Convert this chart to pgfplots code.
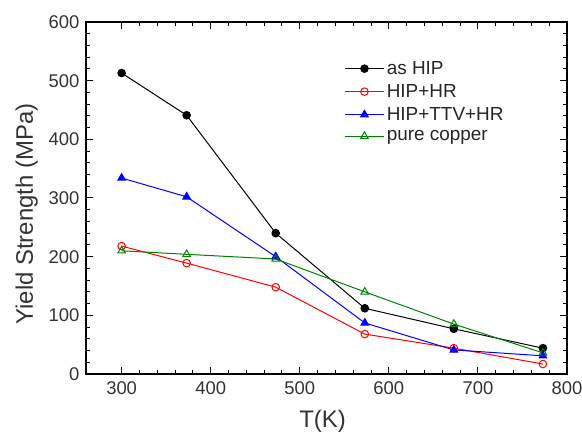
\documentclass[border=0pt]{standalone}
\usepackage{pgfplots}
\pgfplotsset{compat=1.18}
\usepackage{fontspec}
\setmainfont{Liberation Sans}
\definecolor{cgreen}{RGB}{0,128,0}
\begin{document}
\begin{tikzpicture}
\begin{axis}[
  name=ax,
  scale only axis,
  width=481bp, height=352bp,
  xmin=260, xmax=800, ymin=0, ymax=600,
  xtick={300,400,500,600,700,800},
  ytick={0,100,200,300,400,500,600},
  minor x tick num=4, minor y tick num=4,
  tick align=inside,
  major tick length=7bp, minor tick length=4bp,
  axis line style={line width=1.3pt},
  every tick/.style={line width=1pt, black},
  /pgf/number format/assume math mode=true,
  tick label style={font=\fontsize{18.5}{20}\selectfont, color=black!80},
  xticklabel style={yshift=-4bp},
  yticklabel style={xshift=-3bp},
  xlabel={T(K)}, ylabel={Yield Strength (MPa)},
  label style={font=\fontsize{24}{26}\selectfont, color=black!80},
  xlabel style={yshift=-9bp, xshift=-4bp},
  ylabel style={yshift=4bp, xshift=-16bp},
  legend style={at={(0.53,0.90)}, anchor=north west, draw=none, fill=none,
    font=\fontsize{19}{21}\selectfont, row sep=4.5bp, text=black!85},
  legend cell align=left,
  legend image code/.code={\draw[mark repeat=2,mark phase=2] plot coordinates {(0cm,0cm) (0.7cm,0cm) (1.4cm,0cm)};},
  every axis plot/.append style={line width=1pt},
]
\addplot[black, mark=*, mark size=3.8pt, mark options={fill=black}] coordinates {
 (300,513) (373,441) (473,240) (573,112) (673,77) (773,44)};
\addlegendentry{as HIP}
\addplot[red, mark=o, mark size=3.8pt, mark options={fill=white}] coordinates {
 (300,218) (373,189) (473,148) (573,68) (673,44) (773,17)};
\addlegendentry{HIP+HR}
\addplot[blue, mark=triangle*, mark size=4.4pt, mark options={fill=blue}] coordinates {
 (300,334) (373,302) (473,200) (573,87) (673,41) (773,31)};
\addlegendentry{HIP+TTV+HR}
\addplot[cgreen, mark=triangle, mark size=4.4pt, mark options={fill=white}] coordinates {
 (300,210) (373,204) (473,196) (573,140) (673,85) (773,36)};
\addlegendentry{pure copper}
\end{axis}
\pgfresetboundingbox
\path ([shift={(-86bp,-59bp)}]ax.south west) rectangle ([shift={(15bp,22bp)}]ax.north east);
\end{tikzpicture}
\end{document}
